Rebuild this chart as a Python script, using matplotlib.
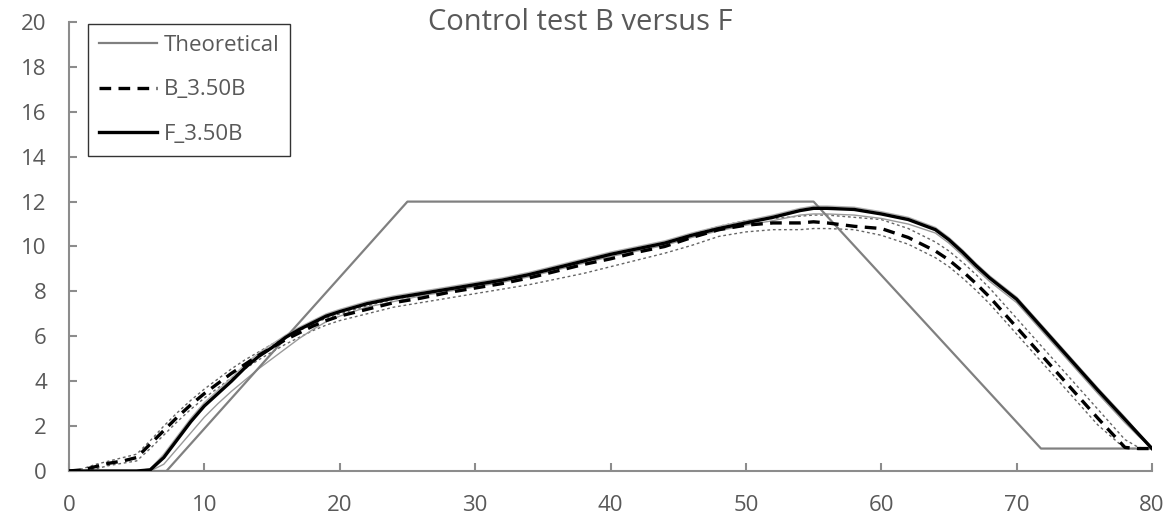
import matplotlib
matplotlib.use("Agg")
import matplotlib.pyplot as plt

plt.rcParams['font.family'] = ['Open Sans', 'DejaVu Sans']

# Theoretical profile
theo_x = [0, 7.2, 25, 55, 71.8, 80]
theo_y = [0, 0, 12, 12, 1, 1]

# Measured time base (s)
t = [0, 1, 2, 3, 4, 5, 6, 7, 8, 9, 10, 11, 12, 13, 14, 15, 16, 17, 18, 19, 20,
     22, 24, 26, 28, 30, 32, 34, 36, 38, 40, 42, 44, 46, 48, 50, 52, 54, 55, 56,
     58, 60, 62, 64, 65, 66, 67, 68, 70, 72, 74, 76, 78, 79, 80]

# B_3.50B mean and bounds
b_mean = [0, 0.05, 0.2, 0.35, 0.45, 0.6, 1.2, 1.8, 2.4, 2.95, 3.45, 3.9, 4.35, 4.75, 5.15, 5.5, 5.85, 6.15, 6.45, 6.7, 6.9,
          7.2, 7.5, 7.7, 7.95, 8.15, 8.35, 8.6, 8.9, 9.2, 9.45, 9.75, 10.0, 10.4, 10.75, 10.95, 11.05, 11.05, 11.1, 11.05,
          10.9, 10.8, 10.4, 9.8, 9.4, 8.9, 8.35, 7.75, 6.4, 5.05, 3.7, 2.35, 1.05, 1.0, 1.0]
b_upper = [0, 0.1, 0.3, 0.45, 0.6, 0.75, 1.35, 2.0, 2.6, 3.15, 3.65, 4.1, 4.55, 4.95, 5.3, 5.65, 5.95, 6.25, 6.55, 6.8, 7.0,
           7.35, 7.65, 7.85, 8.1, 8.3, 8.5, 8.75, 9.05, 9.35, 9.6, 9.9, 10.15, 10.55, 10.9, 11.15, 11.25, 11.35, 11.4, 11.4,
           11.3, 11.2, 10.8, 10.2, 9.8, 9.3, 8.75, 8.15, 6.8, 5.45, 4.1, 2.75, 1.4, 1.05, 1.0]
b_lower = [0, 0.0, 0.1, 0.25, 0.35, 0.45, 1.0, 1.6, 2.2, 2.75, 3.25, 3.7, 4.15, 4.55, 4.95, 5.3, 5.65, 5.95, 6.25, 6.5, 6.7,
           7.0, 7.3, 7.5, 7.7, 7.9, 8.1, 8.3, 8.55, 8.8, 9.1, 9.4, 9.7, 10.05, 10.45, 10.65, 10.75, 10.75, 10.8, 10.8,
           10.75, 10.5, 10.1, 9.5, 9.1, 8.6, 8.05, 7.45, 6.1, 4.75, 3.4, 2.05, 1.0, 1.0, 1.0]

# F_3.50B mean and bounds
f_mean = [0, 0, 0, 0, 0, 0, 0.05, 0.6, 1.4, 2.2, 2.9, 3.45, 4.0, 4.6, 5.1, 5.5, 5.95, 6.3, 6.6, 6.9, 7.1,
          7.45, 7.7, 7.9, 8.1, 8.3, 8.5, 8.75, 9.05, 9.35, 9.65, 9.9, 10.15, 10.5, 10.8, 11.05, 11.3, 11.6, 11.7, 11.7,
          11.65, 11.45, 11.2, 10.75, 10.3, 9.75, 9.15, 8.6, 7.65, 6.3, 4.95, 3.6, 2.3, 1.65, 1.0]
f_upper = [0, 0, 0, 0, 0, 0, 0.1, 0.75, 1.55, 2.35, 3.05, 3.6, 4.15, 4.75, 5.25, 5.65, 6.05, 6.4, 6.7, 7.0, 7.2,
           7.55, 7.8, 8.0, 8.2, 8.4, 8.6, 8.85, 9.15, 9.45, 9.75, 10.0, 10.25, 10.6, 10.9, 11.15, 11.4, 11.7, 11.8, 11.8,
           11.75, 11.55, 11.3, 10.85, 10.4, 9.85, 9.25, 8.7, 7.75, 6.4, 5.05, 3.7, 2.4, 1.7, 1.0]
f_lower = [0, 0, 0, 0, 0, 0, 0, 0.3, 1.0, 1.7, 2.4, 3.0, 3.55, 4.05, 4.55, 5.0, 5.45, 5.9, 6.3, 6.65, 6.9,
           7.3, 7.55, 7.8, 8.0, 8.2, 8.4, 8.65, 8.95, 9.25, 9.55, 9.8, 10.05, 10.4, 10.7, 10.95, 11.15, 11.4, 11.45, 11.45,
           11.4, 11.25, 11.0, 10.6, 10.15, 9.6, 9.0, 8.45, 7.5, 6.15, 4.8, 3.45, 2.15, 1.55, 1.0]

x_ticks = [0, 10, 20, 30, 40, 50, 60, 70, 80]
y_ticks = [0, 2, 4, 6, 8, 10, 12, 14, 16, 18, 20]

fig = plt.figure(figsize=(11.7, 5.15), dpi=100)
ax = fig.add_axes([69 / 1170, 1 - 471 / 515, (1152 - 69) / 1170, (471 - 22) / 515])

axis_grey = '#8c8c8c'
label_grey = '#595959'

# Envelope curves
ax.plot(t, b_upper, color='#666666', lw=1.0, ls=(0, (2, 2)), zorder=2)
ax.plot(t, b_lower, color='#666666', lw=1.0, ls=(0, (2, 2)), zorder=2)
ax.plot(t, f_upper, color='#b0b0b0', lw=1.0, zorder=2)
ax.plot(t, f_lower, color='#9a9a9a', lw=1.0, zorder=2)

ax.plot(theo_x, theo_y, color='#808080', lw=1.6, label='Theoretical', zorder=3)
ax.plot(t, b_mean, color='black', lw=2.4, ls=(0, (3.5, 2.2)), label='B_3.50B', zorder=4)
ax.plot(t, f_mean, color='black', lw=2.4, label='F_3.50B', zorder=5)

ax.set_xlim(0, 80)
ax.set_ylim(0, 20)
ax.set_xticks(x_ticks)
ax.set_yticks(y_ticks)

for side in ('top', 'right'):
    ax.spines[side].set_visible(False)
for side in ('left', 'bottom'):
    ax.spines[side].set_color(axis_grey)
    ax.spines[side].set_linewidth(1.5)

ax.tick_params(axis='both', direction='in', length=6, width=1.5, color=axis_grey,
               labelsize=16, labelcolor=label_grey)
ax.tick_params(axis='y', pad=16)
ax.tick_params(axis='x', pad=17)

fig.text(580 / 1170, 1 - 22 / 515, 'Control test B versus F', ha='center', va='center',
         fontsize=21, color=label_grey)

leg = ax.legend(loc='upper left', bbox_to_anchor=(88 / 1170, 1 - 24 / 515),
                bbox_transform=fig.transFigure, frameon=True, fancybox=False,
                fontsize=16, handlelength=2.6, handletextpad=0.3, labelspacing=1.05,
                borderpad=0.5, borderaxespad=0)
leg.get_frame().set_edgecolor('black')
leg.get_frame().set_linewidth(1.0)
for txt in leg.get_texts():
    txt.set_color(label_grey)

fig.savefig('out.png', dpi=100)
